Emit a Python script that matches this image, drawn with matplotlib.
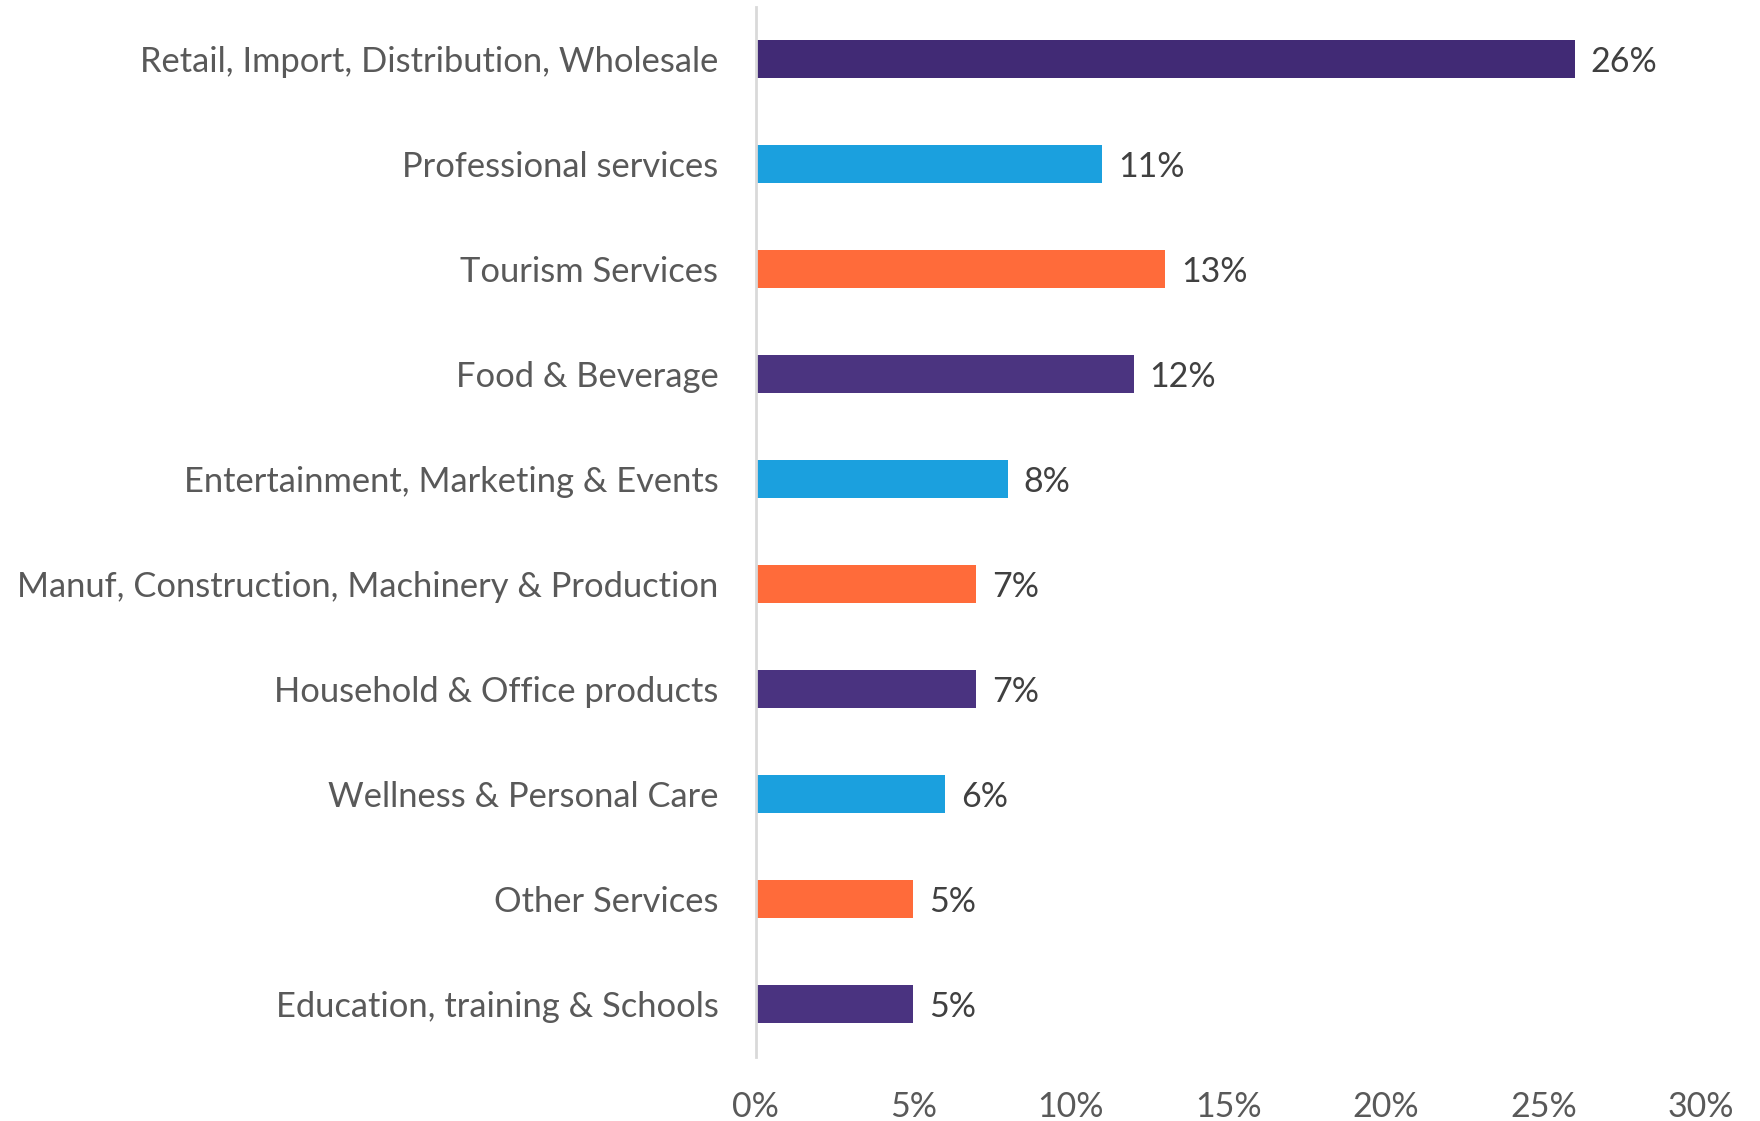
import numpy as np
import matplotlib.pyplot as pl
from matplotlib.ticker import FuncFormatter

pl.rc('font', family=['Lato', 'DejaVu Sans'])

categories = ["Retail, Import, Distribution, Wholesale",
              "Professional services",
              "Tourism Services",
              "Food & Beverage",
              "Entertainment, Marketing & Events",
              "Manuf, Construction, Machinery & Production",
              "Household & Office products",
              "Wellness & Personal Care",
              "Other Services",
              "Education, training & Schools"]
shares = [26, 11, 13, 12, 8, 7, 7, 6, 5, 5]
bar_colors = ["#412A75", "#1BA0DE", "#FF6B3A", "#4B3480", "#1BA0DE",
              "#FF6B3A", "#4A3380", "#1BA0DE", "#FF6B3A", "#4A3380"]
x_ticks = [0, 5, 10, 15, 20, 25, 30]

fig = pl.figure(figsize=(17.6, 11.21), dpi=100)
ax = fig.add_axes([0.4295, 0.0575, 0.5369, 0.9367])

ypos = np.arange(len(categories))
ax.barh(ypos, shares, height=0.36, color=bar_colors)
for y, v in zip(ypos, shares):
    ax.text(v + 0.5, y + 0.03, f"{v}%", va='center', ha='left', fontsize=24.5, color='#404040')

ax.set_ylim(len(categories) - 0.5, -0.5)
ax.set_xlim(0, 30)
ax.set_yticks(ypos)
ax.set_yticklabels(categories, fontsize=24.8, color='#595959')
ax.set_xticks(x_ticks)
ax.xaxis.set_major_formatter(FuncFormatter(lambda v, p: f"{v:.0f}%"))
ax.tick_params(axis='x', labelsize=24.5, labelcolor='#595959', length=0, pad=25)
ax.tick_params(axis='y', length=0, pad=27)

for s in ['top', 'right', 'bottom']:
    ax.spines[s].set_visible(False)
ax.spines['left'].set_color('#D9D9D9')
ax.spines['left'].set_linewidth(2)

fig.savefig("out.png", dpi=100, facecolor='white')
pl.close(fig)
